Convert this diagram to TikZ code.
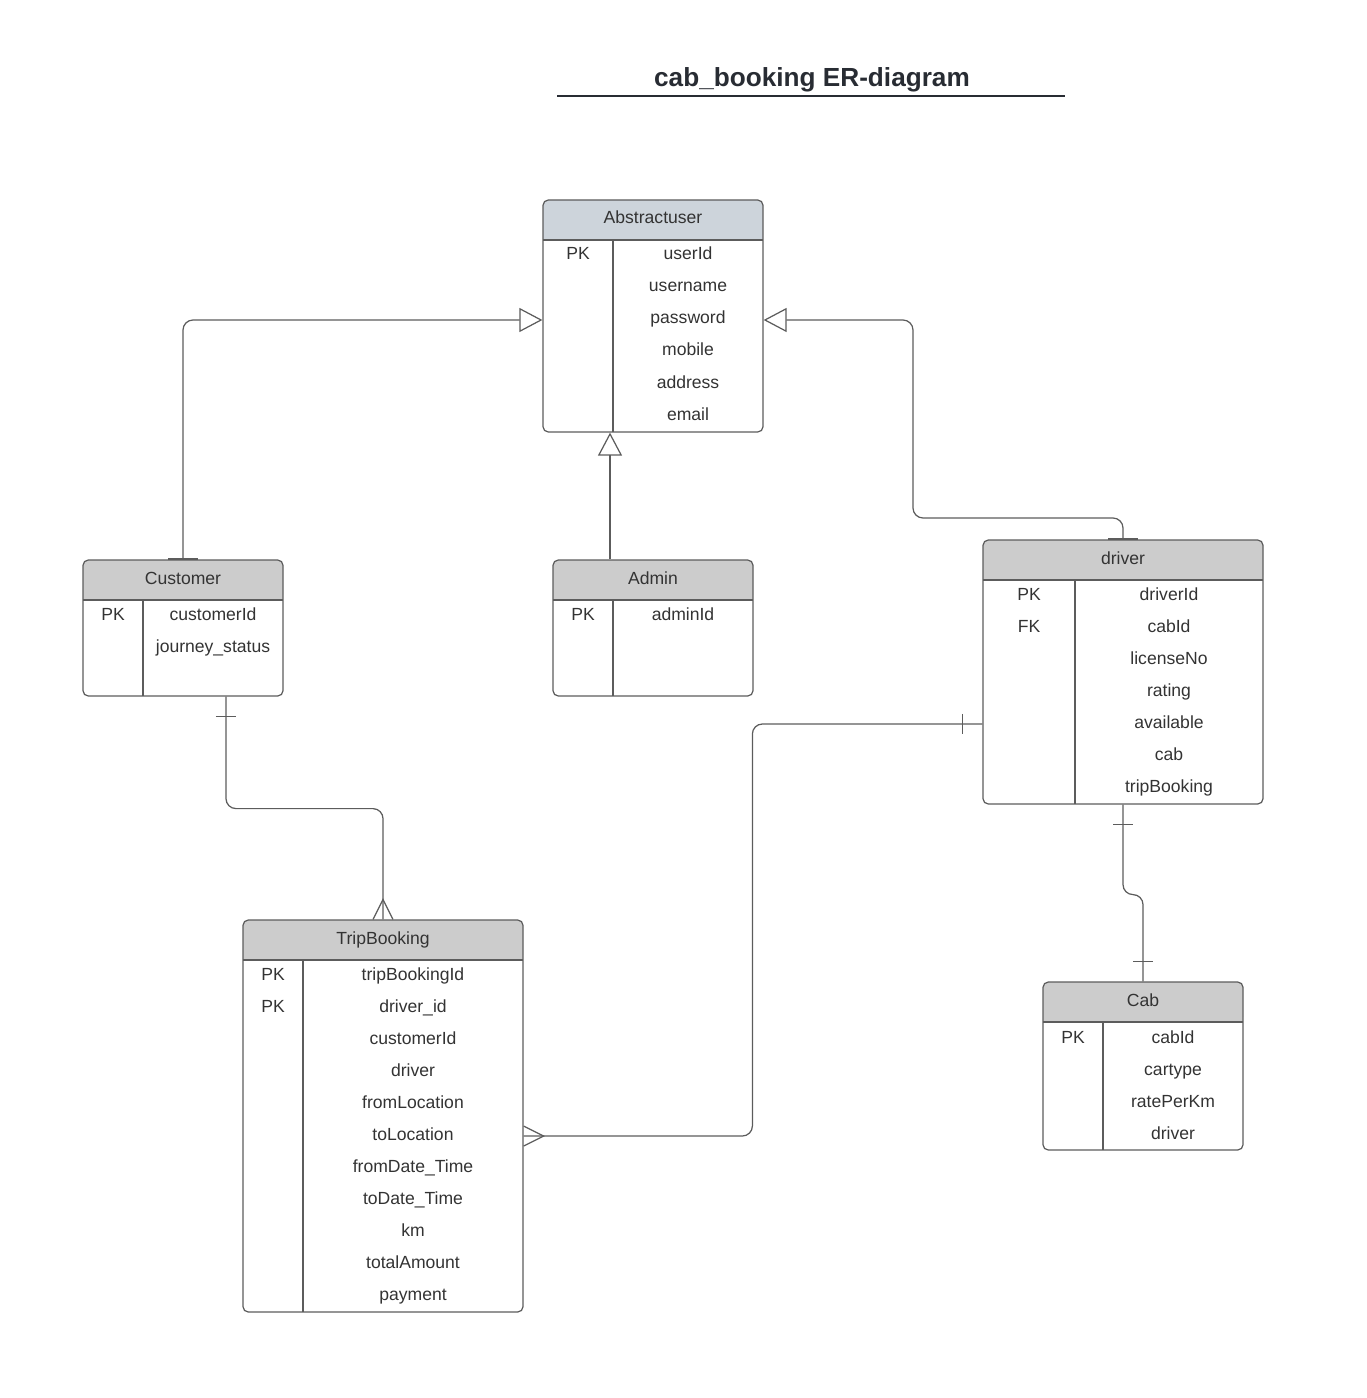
\documentclass[tikz,border=0pt]{standalone}
\usepackage{fontspec}
\setmainfont{Liberation Sans}
\usetikzlibrary{arrows.meta,fit}
\definecolor{edge}{HTML}{5C5C5C}
\definecolor{hdrgrey}{HTML}{CCCCCC}
\definecolor{hdrblue}{HTML}{CDD4DB}
\definecolor{ink}{HTML}{333333}
\definecolor{titleink}{HTML}{282C33}
\tikzset{
  box/.style={draw=edge, line width=0.7pt, rounded corners=3pt, inner sep=0pt},
  rule/.style={draw=edge, line width=0.7pt},
  conn/.style={draw=edge, line width=0.7pt, rounded corners=0.2cm},
  inh/.style={conn, -{Triangle[open,length=0.46cm,width=0.48cm]}},
  attr/.style={text=ink, font=\fontsize{10}{12}\selectfont, inner sep=0pt, anchor=base},
}
\begin{document}
\begin{tikzpicture}[x=0.02cm,y=-0.02cm]
    \useasboundingbox (0,0) rectangle (1366,1398);
    \node[anchor=base, inner sep=0pt, text=titleink, font=\bfseries\fontsize{14.9}{18}\selectfont] (title) at (812,87) {cab\_booking ER-diagram};
    \draw[titleink, line width=1.1pt] (557,96) -- (1065,96);

    \fill[hdrblue, rounded corners=3pt] (543,200) rectangle (763,240);
    \fill[hdrblue] (543,232) rectangle (763,240);
    \node[box, fit={(543,200) (763,432)}] (abstractuser) {};
    \draw[rule] (543,240) -- (763,240) (613,240) -- (613,432);
    \node[attr] (abstractuser-t) at (653,224) {Abstractuser};
    \node[attr] (abstractuser-k) at (578,260) {PK};
    \foreach \a [count=\i from 0] in {userId,username,password,mobile,address,email}
      \node[attr] (abstractuser-\i) at (688,260+32*\i) {\a};

    \fill[hdrgrey, rounded corners=3pt] (83,560) rectangle (283,600);
    \fill[hdrgrey] (83,592) rectangle (283,600);
    \node[box, fit={(83,560) (283,696)}] (customer) {};
    \draw[rule] (83,600) -- (283,600) (143,600) -- (143,696);
    \node[attr] (customer-t) at (183,584) {Customer};
    \node[attr] (customer-k) at (113,620) {PK};
    \foreach \a [count=\i from 0] in {customerId,journey\_status}
      \node[attr] (customer-\i) at (213,620+32*\i) {\a};

    \fill[hdrgrey, rounded corners=3pt] (553,560) rectangle (753,600);
    \fill[hdrgrey] (553,592) rectangle (753,600);
    \node[box, fit={(553,560) (753,696)}] (admin) {};
    \draw[rule] (553,600) -- (753,600) (613,600) -- (613,696);
    \node[attr] (admin-t) at (653,584) {Admin};
    \node[attr] (admin-k) at (583,620) {PK};
    \node[attr] (admin-0) at (683,620) {adminId};

    \fill[hdrgrey, rounded corners=3pt] (983,540) rectangle (1263,580);
    \fill[hdrgrey] (983,572) rectangle (1263,580);
    \node[box, fit={(983,540) (1263,804)}] (driver) {};
    \draw[rule] (983,580) -- (1263,580) (1075,580) -- (1075,804);
    \node[attr] (driver-t) at (1123,564) {driver};
    \node[attr] (driver-k1) at (1029,600) {PK};
    \node[attr] (driver-k2) at (1029,632) {FK};
    \foreach \a [count=\i from 0] in {driverId,cabId,licenseNo,rating,available,cab,tripBooking}
      \node[attr] (driver-\i) at (1169,600+32*\i) {\a};

    \fill[hdrgrey, rounded corners=3pt] (243,920) rectangle (523,960);
    \fill[hdrgrey] (243,952) rectangle (523,960);
    \node[box, fit={(243,920) (523,1312)}] (tripbooking) {};
    \draw[rule] (243,960) -- (523,960) (303,960) -- (303,1312);
    \node[attr] (tripbooking-t) at (383,944) {TripBooking};
    \node[attr] (tripbooking-k1) at (273,980) {PK};
    \node[attr] (tripbooking-k2) at (273,1012) {PK};
    \foreach \a [count=\i from 0] in {tripBookingId,driver\_id,customerId,driver,fromLocation,toLocation,fromDate\_Time,toDate\_Time,km,totalAmount,payment}
      \node[attr] (tripbooking-\i) at (413,980+32*\i) {\a};

    \fill[hdrgrey, rounded corners=3pt] (1043,982) rectangle (1243,1022);
    \fill[hdrgrey] (1043,1014) rectangle (1243,1022);
    \node[box, fit={(1043,982) (1243,1150)}] (cab) {};
    \draw[rule] (1043,1022) -- (1243,1022) (1103,1022) -- (1103,1150);
    \node[attr] (cab-t) at (1143,1006) {Cab};
    \node[attr] (cab-k) at (1073,1043) {PK};
    \foreach \a [count=\i from 0] in {cabId,cartype,ratePerKm,driver}
      \node[attr] (cab-\i) at (1173,1043+32*\i) {\a};

    \coordinate (au-l) at ([yshift=-0.08cm]abstractuser.west);
    \coordinate (au-r) at ([yshift=-0.08cm]abstractuser.east);
    \coordinate (ad-n) at ([xshift=-0.86cm]admin.north);
    \coordinate (cu-s) at ([xshift=0.86cm]customer.south);
    \coordinate (dr-w) at ([yshift=-1.04cm]driver.west);
    \coordinate (tb-e) at ([yshift=-0.4cm]tripbooking.east);

    \draw[inh] (customer.north) |- (au-l);
    \draw[inh] (ad-n) -- (ad-n |- abstractuser.south);
    \draw[inh] (driver.north) |- (913,518) |- (au-r);
    \draw[edge, line width=1.1pt] ([xshift=-0.3cm]customer.north) -- ([xshift=0.3cm]customer.north);
    \draw[edge, line width=1.1pt] ([xshift=-0.3cm]driver.north) -- ([xshift=0.3cm]driver.north);

    \draw[conn] (cu-s) -- ++(0,112) -| (tripbooking.north);
    \draw[rule] ([xshift=-0.2cm,yshift=-0.4cm]cu-s) -- ([xshift=0.2cm,yshift=-0.4cm]cu-s);
    \draw[rule] ([xshift=-0.2cm]tripbooking.north) -- ([yshift=0.4cm]tripbooking.north) -- ([xshift=0.2cm]tripbooking.north);

    \draw[conn] (dr-w) -- ++(-230,0) |- (tb-e);
    \draw[rule] ([xshift=-0.4cm,yshift=0.2cm]dr-w) -- ([xshift=-0.4cm,yshift=-0.2cm]dr-w);
    \draw[rule] ([yshift=0.2cm]tb-e) -- ([xshift=0.4cm]tb-e) -- ([yshift=-0.2cm]tb-e);

    \draw[conn] (driver.south) -- ++(0,90) -| (cab.north);
    \draw[rule] ([xshift=-0.2cm,yshift=-0.4cm]driver.south) -- ([xshift=0.2cm,yshift=-0.4cm]driver.south);
    \draw[rule] ([xshift=-0.2cm,yshift=0.4cm]cab.north) -- ([xshift=0.2cm,yshift=0.4cm]cab.north);
\end{tikzpicture}
\end{document}
